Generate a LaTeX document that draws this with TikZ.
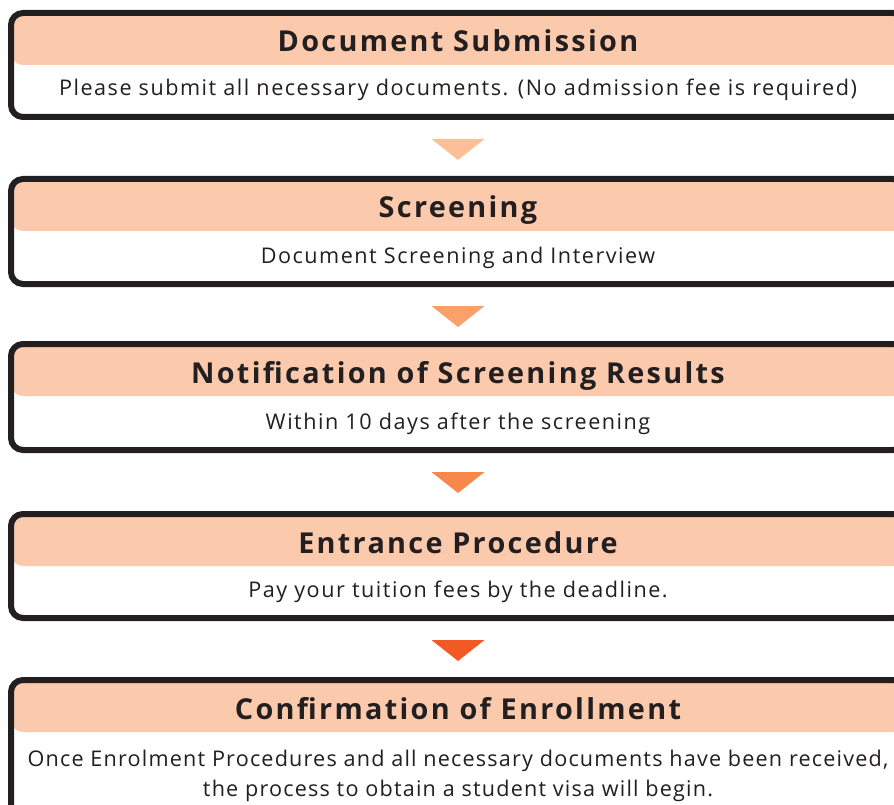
\documentclass[tikz,border=0pt]{standalone}
\usepackage{fontspec}
\setmainfont{Open Sans}
\newfontfamily\headfont{Open Sans}[LetterSpace=8]
\newfontfamily\bodyfont{Open Sans}[LetterSpace=7]
\newfontfamily\bodytight{Open Sans}[LetterSpace=5.5]
\usetikzlibrary{positioning}
\definecolor{peach}{RGB}{251,202,173}
\definecolor{frame}{RGB}{35,31,32}
\definecolor{arrow1}{RGB}{253,190,152}
\definecolor{arrow2}{RGB}{249,160,107}
\definecolor{arrow3}{RGB}{247,135,74}
\definecolor{arrow4}{RGB}{241,90,36}
\tikzstyle{stepbox}=[rectangle, rounded corners=12pt, draw=frame, line width=6pt, fill=white, minimum width=894pt, anchor=north, path picture={\fill[peach] (path picture bounding box.north west) rectangle ([yshift=-52pt]path picture bounding box.north east);}]
\tikzstyle{head}=[font=\headfont\bfseries\fontsize{28.8}{32}\selectfont, text=frame, inner sep=0pt, anchor=base]
\tikzstyle{body}=[font=\bodyfont\fontsize{21.6}{30}\selectfont, text=frame, align=center, inner sep=0pt, anchor=base]

\begin{document}
\begin{tikzpicture}[x=1pt, y=-1pt]
            %page frame, the boxes run off the right edge
            \useasboundingbox (0,0) rectangle (894,805);
            \clip (0,0) rectangle (894,805);
            \foreach \n/\ytop/\h/\yb/\head/\body in {
                1/10/104/86/Document Submission/{Please submit all necessary documents. (No admission fee is required)},
                2/176/105/87/Screening/{Document Screening and Interview},
                3/341/106/88/Notification of Screening Results/{Within 10 days after the screening},
                4/511/104/86/Entrance Procedure/{Pay your tuition fees by the deadline.},
                5/677/140/119/Confirmation of Enrollment/{\bodytight Once Enrolment Procedures and all necessary documents have been received,\\\bodytight the process to obtain a student visa will begin.}}{
                \node[stepbox, minimum height=\h pt] (s\n) at (458,\ytop) {};
                \node[head] (h\n) at ([yshift=-42pt]s\n.north) {\head};
                \node[body] (b\n) at ([yshift=-\yb pt]s\n.north) {\body};
            }
            %arrows getting darker step by step
            \foreach \n in {1,...,4}{
                \fill[arrow\n] ([shift={(-26.5,19)}]s\n.south) -- ([shift={(26.5,19)}]s\n.south) -- ([shift={(0,40)}]s\n.south) -- cycle;
            }
\end{tikzpicture}
\end{document}
